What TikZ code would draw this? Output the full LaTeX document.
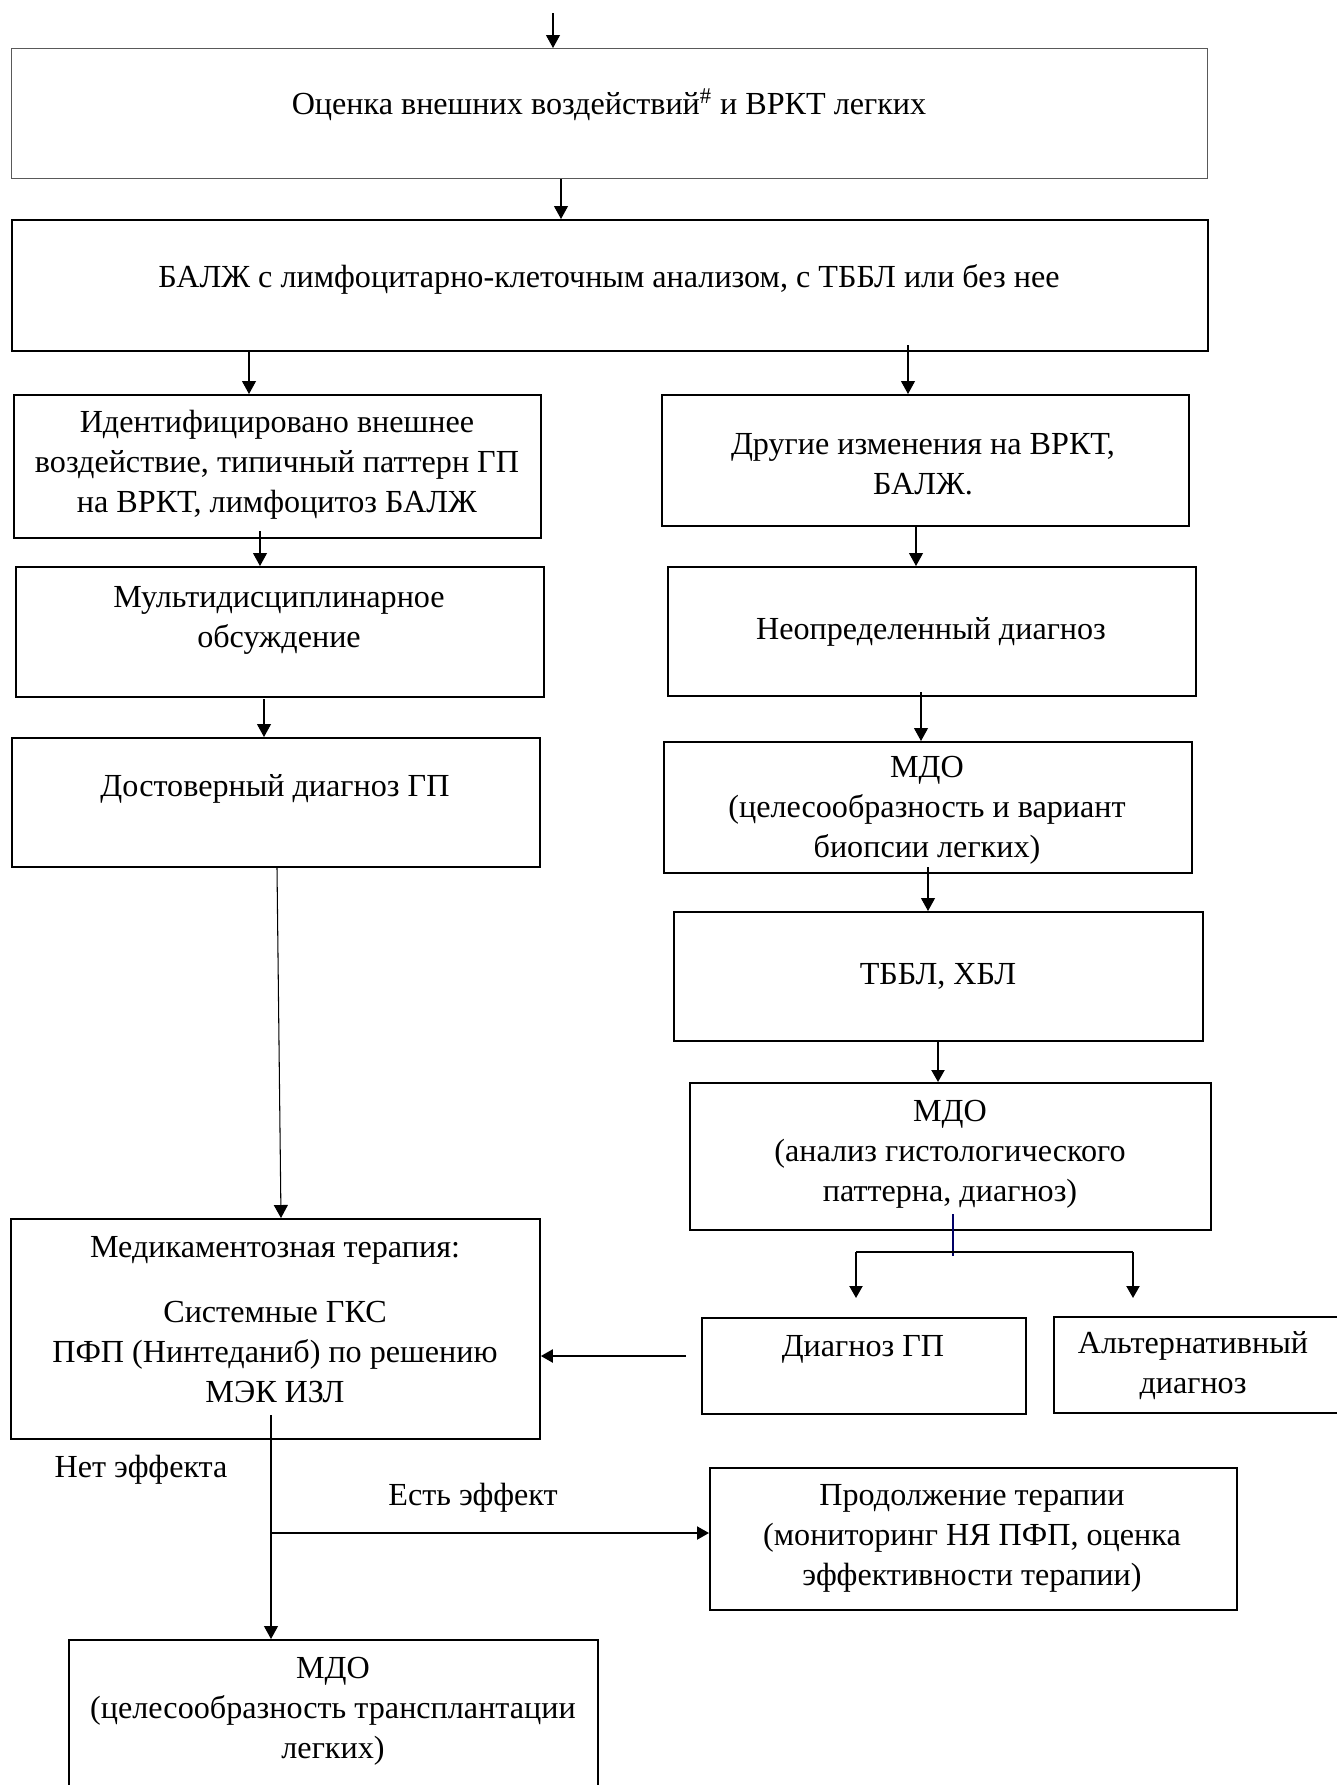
\documentclass[tikz,border=0pt]{standalone}
\usepackage{fontspec}
\setmainfont{Liberation Serif}
\usetikzlibrary{arrows.meta}

\tikzset{
  box/.style={draw, line width=1.1pt, anchor=north west, inner sep=0pt},
  thinbox/.style={draw=black!65, line width=0.6pt, anchor=north west, inner sep=0pt},
  txt/.style={align=center, inner sep=0pt, font=\fontsize{18.3}{22.8}\selectfont},
  arr/.style={line width=0.6pt, -{Triangle[length=0.26cm,width=0.28cm]}},
  thickarr/.style={line width=1.2pt, -{Triangle[length=0.24cm,width=0.26cm]}}
}

\begin{document}
\begin{tikzpicture}[x=0.02cm, y=-0.02cm]
\useasboundingbox[fill=white] (0,0) rectangle (1337,1785);

% boxes
\node[thinbox, minimum width=23.92cm, minimum height=2.60cm] (ocenka) at (11,48) {};
\node[box, minimum width=23.92cm, minimum height=2.62cm] (balzh) at (11,219) {};
\node[box, minimum width=10.54cm, minimum height=2.86cm] (ident) at (13,394) {};
\node[box, minimum width=10.54cm, minimum height=2.62cm] (drugie) at (661,394) {};
\node[box, minimum width=10.56cm, minimum height=2.60cm] (multi) at (15,566) {};
\node[box, minimum width=10.56cm, minimum height=2.58cm] (neopr) at (667,566) {};
\node[box, minimum width=10.56cm, minimum height=2.58cm] (dostov) at (11,737) {};
\node[box, minimum width=10.56cm, minimum height=2.62cm] (mdoa) at (663,741) {};
\node[box, minimum width=10.58cm, minimum height=2.58cm] (tbbl) at (673,911) {};
\node[box, minimum width=10.42cm, minimum height=2.94cm] (mdob) at (689,1082) {};
\node[box, minimum width=6.48cm, minimum height=1.92cm] (diaggp) at (701,1317) {};
\node[box, minimum width=6.00cm, minimum height=1.92cm] (altern) at (1053,1316) {};
\node[box, minimum width=10.58cm, minimum height=4.40cm] (medik) at (10,1218) {};
\node[box, minimum width=10.58cm, minimum height=3.40cm] (mdoc) at (68,1639) {};
\node[box, minimum width=10.54cm, minimum height=2.84cm] (prodol) at (709,1467) {};

% texts
\node[txt] (t-ocenka) at (609,105) {Оценка внешних воздействий\textsuperscript{\#} и ВРКТ легких};
\node[txt] (t-balzh) at (609,279) {БАЛЖ с лимфоцитарно-клеточным анализом, с ТББЛ или без нее};
\node[txt] (t-ident) at (277,465) {Идентифицировано внешнее\\воздействие, типичный паттерн ГП\\на ВРКТ, лимфоцитоз БАЛЖ};
\node[txt] (t-drugie) at (923,464) {Другие изменения на ВРКТ,\\БАЛЖ.};
\node[txt] (t-multi) at (279,620) {Мультидисциплинарное\\обсуждение};
\node[txt] (t-neopr) at (931,632) {Неопределенный диагноз};
\node[txt] (t-dostov) at (275,789) {Достоверный диагноз ГП};
\node[txt] (t-mdoa) at (927,810) {МДО\\(целесообразность и вариант\\биопсии легких)};
\node[txt] (t-tbbl) at (938,976) {ТББЛ, ХБЛ};
\node[txt] (t-mdob) at (950,1154) {МДО\\(анализ гистологического\\паттерна, диагноз)};
\node[txt] (t-diaggp) at (863,1349) {Диагноз ГП};
\node[txt] (t-altern) at (1193,1366) {Альтернативный\\диагноз};
\node[txt] (t-medik) at (275,1320) {Медикаментозная терапия:\\[0.5cm]Системные ГКС\\ПФП (Нинтеданиб) по решению\\МЭК ИЗЛ};
\node[txt] (t-prodol) at (972,1538) {Продолжение терапии\\(мониторинг НЯ ПФП, оценка\\эффективности терапии)};
\node[txt] (t-mdoc) at (333,1711) {МДО\\(целесообразность трансплантации\\легких)};
\node[txt] (t-net) at (141,1470) {Нет эффекта};
\node[txt] (t-est) at (473,1498) {Есть эффект};

% connectors
\coordinate (start) at (553,13);
\draw[arr] (start) -- (ocenka.north -| start);
\draw[arr] (ocenka.south -| 561,0) -- (balzh.north -| 561,0);
\draw[arr] (balzh.south -| 249,0) -- (ident.north -| 249,0);
\draw[arr] (908,345) -- (drugie.north -| 908,0);
\draw[arr] (260,531) -- (multi.north -| 260,0);
\draw[arr] (drugie.south -| 916,0) -- (neopr.north -| 916,0);
\draw[arr] (264,699) -- (dostov.north -| 264,0);
\draw[arr] (921,692) -- (mdoa.north -| 921,0);
\draw[arr] (928,867) -- (tbbl.north -| 928,0);
\draw[thickarr] (tbbl.south -| 938,0) -- (mdob.north -| 938,0);

% split below the second MDO box
\coordinate (split) at (953,1252);
\coordinate (splitl) at (856,1252);
\coordinate (splitr) at (1133,1252);
\draw[line width=0.6pt, draw=blue!40!black] (953,1214) -- (split |- 0,1256);
\draw[line width=1.2pt] (splitl) -- (splitr);
\draw[thickarr] (splitl) -- (856,1298);
\draw[thickarr] (splitr) -- (1133,1298);

\draw[thickarr] (686,1356) -- (medik.east |- 0,1356);
\draw[arr] (dostov.south -| 277,0) -- (medik.north -| 281,0);

% therapy outcome
\coordinate (fork) at (271,1533);
\draw[arr] (271,1415) -- (mdoc.north -| 271,0);
\draw[thickarr] (fork) -- (prodol.west |- fork);
\end{tikzpicture}
\end{document}
